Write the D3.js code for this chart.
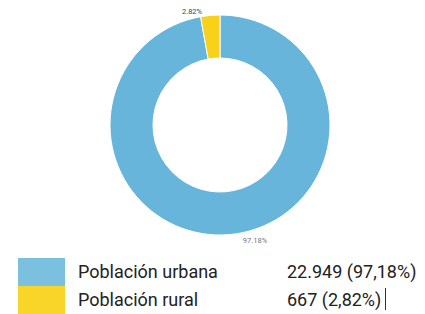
<!DOCTYPE html>
<html><head><meta charset="utf-8">
<script src="https://cdn.jsdelivr.net/npm/d3@7"></script>
<style>html,body{margin:0;padding:0;background:#fff;}svg{display:block;}</style>
</head><body>
<svg id="c" width="425" height="314"></svg>
<script>
const categories = ["Población urbana", "Población rural"];
const values = [22949, 667];
const pctLabels = ["97.18%", "2.82%"];
const legendValues = ["22.949 (97,18%)", "667 (2,82%)"];
const colors = ["#68b5dc", "#f7d11a"];
const legendColors = ["#7cc0e0", "#f9d52a"];

const svg = d3.select("#c");
const cx = 220, cy = 125, rOuter = 110, rInner = 67;
const g = svg.append("g").attr("transform", `translate(${cx},${cy})`);
const pie = d3.pie().sort(null).value(d => d);
const arcs = pie(values);
const arc = d3.arc().innerRadius(rInner).outerRadius(rOuter);
g.selectAll("path").data(arcs).join("path")
  .attr("d", arc).attr("fill", (d, i) => colors[i])
  .attr("stroke", "#fff").attr("stroke-width", 1);

// urban label near bottom
g.append("text")
  .attr("x", 35).attr("y", rOuter + 8)
  .attr("font-family", "Roboto, sans-serif").attr("font-size", 7.5)
  .attr("fill", "#777").attr("text-anchor", "middle")
  .text(pctLabels[0]);
// rural label top-left of slice
const ra = (arcs[1].startAngle + arcs[1].endAngle) / 2;
const rx = Math.sin(ra) * (rOuter + 2), ry = -Math.cos(ra) * (rOuter + 2);
g.append("text")
  .attr("x", rx - 8).attr("y", ry + 1)
  .attr("font-family", "Roboto, sans-serif").attr("font-size", 7.5)
  .attr("fill", "#444").attr("text-anchor", "end")
  .text(pctLabels[1]);

// legend
const leg = svg.append("g");
const rowY = d3.scaleBand().domain(categories).range([258, 314]).padding(0);
categories.forEach((c, i) => {
  const y = rowY(c);
  leg.append("rect").attr("x", 18).attr("y", y).attr("width", 47)
    .attr("height", rowY.bandwidth()).attr("fill", legendColors[i]);
  leg.append("text").attr("x", 78).attr("y", y + 20)
    .attr("font-family", "Roboto, sans-serif").attr("font-size", 18)
    .attr("fill", "#222").text(c);
  leg.append("text").attr("x", 287).attr("y", y + 20)
    .attr("font-family", "Roboto, sans-serif").attr("font-size", 18)
    .attr("fill", "#222").text(legendValues[i]);
});
// text cursor artifact
leg.append("line").attr("x1", 385.5).attr("x2", 385.5)
  .attr("y1", 288).attr("y2", 310).attr("stroke", "#333").attr("stroke-width", 1);
</script>
</body></html>
